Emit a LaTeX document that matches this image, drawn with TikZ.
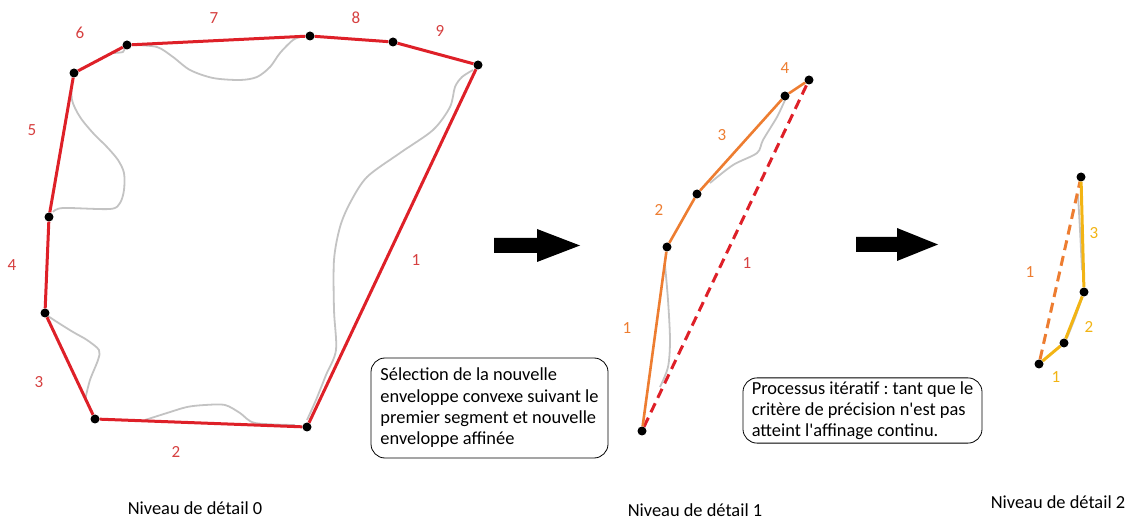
\documentclass[tikz,border=0pt]{standalone}
\usepackage{fontspec}
\setmainfont{Carlito}
\usepackage{tikz}
\usepackage{xcolor}

\definecolor{hullred}{RGB}{222,32,40}
\definecolor{lblred}{RGB}{214,64,64}
\definecolor{hullorange}{RGB}{237,125,49}
\definecolor{hullgold}{RGB}{242,180,20}
\definecolor{shapegray}{RGB}{195,195,195}

\tikzset{
	pt/.style={circle,fill=black,inner sep=0pt,minimum size=9pt},
	outline/.style={shapegray,line width=1.8pt,line join=round},
	hullzero/.style={hullred,line width=3pt},
	hullone/.style={hullorange,line width=2.6pt},
	hulltwo/.style={hullgold,line width=3pt},
	oldseg/.style={dash pattern=on 10pt off 6pt,line width=3pt},
	lbl/.style={font=\fontsize{17}{19}\selectfont,inner sep=0pt},
	note/.style={draw,rounded corners=14pt,line width=0.8pt,align=left,
		inner xsep=4pt,font=\fontsize{18.4}{21.3}\selectfont\frenchspacing},
	title/.style={font=\fontsize{18.4}{21}\selectfont,inner sep=0pt},
	bigarrow/.style={fill=black}
}

\begin{document}
\begin{tikzpicture}[x=1pt,y=-1pt]
	\useasboundingbox (0,0) rectangle (1128,521);
	
	% Level 0: the shape in gray, then its hull
	\draw[outline] plot[smooth] coordinates {(473,70) (462,77) (455,87) (450,107) (433,130) (400,153) (367,177) (350,203) (340,227) (334,260) (334,310) (336,350) (326,375) (316,400) (307,420)};
	\draw[outline] plot[smooth] coordinates {(295,425) (255,423) (240,413) (225,405) (205,405) (187,407) (167,413) (145,420)};
	\draw[outline] plot[smooth] coordinates {(85,400) (90,380) (98,360) (99,350) (87,340) (73,332) (57,322) (48,316)};
	\draw[outline] plot[smooth] coordinates {(53,212) (63,208) (110,209) (120,203) (124,190) (124,173) (118,160) (107,147) (93,133) (80,117) (72,100) (72,80)};
	\draw[outline] plot[smooth] coordinates {(112,53) (123,52) (125,47)};
	\draw[outline] plot[smooth] coordinates {(133,45) (157,47) (173,57) (190,70) (213,78) (240,80) (257,77) (270,67) (280,53) (293,40) (303,36)};
	
	\node[pt] (a1) at (478,65) {};
	\node[pt] (a2) at (307,427) {};
	\node[pt] (a3) at (95,419) {};
	\node[pt] (a4) at (45,313) {};
	\node[pt] (a5) at (49,217) {};
	\node[pt] (a6) at (74,73) {};
	\node[pt] (a7) at (127,45) {};
	\node[pt] (a8) at (310,36) {};
	\node[pt] (a9) at (393,42) {};
	
	\draw[hullzero] (a1) -- (a2);
	\draw[hullzero] (a2) -- (a3);
	\draw[hullzero] (a3) -- (a4);
	\draw[hullzero] (a4) -- (a5);
	\draw[hullzero] (a5) -- (a6);
	\draw[hullzero] (a6) -- (a7);
	\draw[hullzero] (a7) -- (a8);
	\draw[hullzero] (a8) -- (a9);
	\draw[hullzero] (a9) -- (a1);
	
	\node[lbl,lblred] (s1) at (416,260) {1};
	\node[lbl,lblred] (s2) at (176,452) {2};
	\node[lbl,lblred] (s3) at (39,382) {3};
	\node[lbl,lblred] (s4) at (12,265) {4};
	\node[lbl,lblred] (s5) at (32,130) {5};
	\node[lbl,lblred] (s6) at (80,33) {6};
	\node[lbl,lblred] (s7) at (214,18) {7};
	\node[lbl,lblred] (s8) at (356,18) {8};
	\node[lbl,lblred] (s9) at (440,31) {9};
	
	% Level 1: first segment refined
	\draw[outline] plot[smooth] coordinates {(665,265) (668,300) (670,340) (668,367) (660,387)};
	\draw[outline] plot[smooth] coordinates {(710,183) (733,165) (757,153) (763,140) (777,117) (785,100)};
	
	\node[pt] (b0) at (642,431) {};
	\node[pt] (b1) at (667,247) {};
	\node[pt] (b2) at (697,194) {};
	\node[pt] (b3) at (785,96) {};
	\node[pt] (b4) at (809,80) {};
	
	\draw[hullred,oldseg] (b0) -- (b4);
	\draw[hullone] (b0) -- (b1);
	\draw[hullone] (b1) -- (b2);
	\draw[hullone] (b2) -- (b3);
	\draw[hullone] (b3) -- (b4);
	
	\node[lbl,lblred] (t0) at (747,263) {1};
	\node[lbl,hullorange] (t1) at (627,328) {1};
	\node[lbl,hullorange] (t2) at (659,210) {2};
	\node[lbl,hullorange] (t3) at (722,135) {3};
	\node[lbl,hullorange] (t4) at (785,68) {4};
	
	% Level 2: first segment refined again
	\draw[outline] plot[smooth] coordinates {(1078,195) (1080,230) (1082,270)};
	\draw[outline] plot[smooth] coordinates {(1082,298) (1075,318) (1067,338)};
	
	\node[pt] (c0) at (1039,364) {};
	\node[pt] (c1) at (1064,343) {};
	\node[pt] (c2) at (1084,292) {};
	\node[pt] (c3) at (1081,177) {};
	
	\draw[hullorange,oldseg] (c0) -- (c3);
	\draw[hulltwo] (c0) -- (c1);
	\draw[hulltwo] (c1) -- (c2);
	\draw[hulltwo] (c2) -- (c3);
	
	\node[lbl,hullorange] (u0) at (1030,272) {1};
	\node[lbl,hullgold] (u1) at (1056,377) {1};
	\node[lbl,hullgold] (u2) at (1089,327) {2};
	\node[lbl,hullgold] (u3) at (1094,233) {3};
	
	% Block arrows between the levels
	\fill[bigarrow] (494,238) -- (537,238) -- (537,229) -- (580,245.5) -- (537,262) -- (537,253) -- (494,253) -- cycle;
	\fill[bigarrow] (856,237) -- (897,237) -- (897,228) -- (938,244.5) -- (897,261) -- (897,252) -- (856,252) -- cycle;
	
	% Notes and titles
	\node[note,minimum width=237pt,minimum height=100pt] (n1) at (489.5,408) {Sélection de la nouvelle\\ enveloppe convexe suivant le\\ premier segment et nouvelle\\ enveloppe affinée};
	\node[note,minimum width=239pt,minimum height=65pt] (n2) at (862.5,410.5) {Processus itératif : tant que le\\ critère de précision n\textquotesingle est pas\\ atteint l\textquotesingle affinage continu.};
	
	\node[title] (l0) at (195,508) {Niveau de détail 0};
	\node[title] (l1) at (695,510) {Niveau de détail 1};
	\node[title] (l2) at (1058,502) {Niveau de détail 2};
	
\end{tikzpicture}
\end{document}
